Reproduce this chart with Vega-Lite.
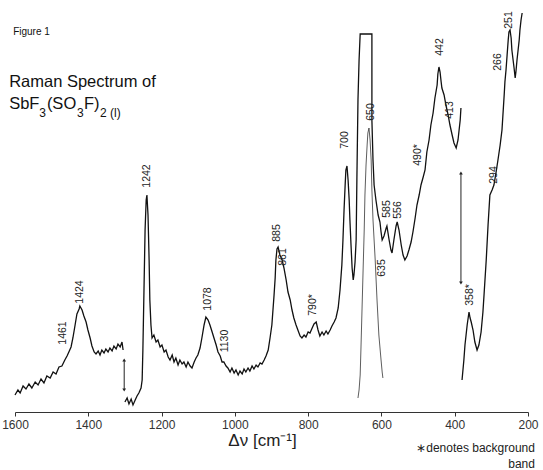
{
  "$schema": "https://vega.github.io/schema/vega-lite/v6.json",
  "width": 513,
  "height": 400,
  "autosize": {"type": "none"},
  "padding": {"left": 15, "top": 12, "right": 15, "bottom": 58},
  "background": "white",
  "config": {"view": {"stroke": null}, "font": "Liberation Sans"},
  "datasets": {
    "trace": [
      {"s":"A","v":1600,"I":17},{"s":"A","v":1592,"I":22},{"s":"A","v":1586,"I":19},{"s":"A","v":1578,"I":26},{"s":"A","v":1570,"I":23},{"s":"A","v":1562,"I":28},{"s":"A","v":1554,"I":24},{"s":"A","v":1545,"I":30},{"s":"A","v":1537,"I":27},{"s":"A","v":1529,"I":33},{"s":"A","v":1521,"I":29},{"s":"A","v":1513,"I":36},{"s":"A","v":1504,"I":34},{"s":"A","v":1496,"I":40},{"s":"A","v":1488,"I":38},{"s":"A","v":1480,"I":45},{"s":"A","v":1472,"I":46},{"s":"A","v":1464,"I":52},{"s":"A","v":1458,"I":56},{"s":"A","v":1453,"I":60},{"s":"A","v":1447,"I":65},{"s":"A","v":1442,"I":74},{"s":"A","v":1436,"I":87},{"s":"A","v":1431,"I":98},{"s":"A","v":1425,"I":103},{"s":"A","v":1423,"I":106},{"s":"A","v":1417,"I":102},{"s":"A","v":1412,"I":96},{"s":"A","v":1406,"I":90},{"s":"A","v":1401,"I":82},{"s":"A","v":1395,"I":74},{"s":"A","v":1390,"I":66},{"s":"A","v":1384,"I":60},{"s":"A","v":1379,"I":58},{"s":"A","v":1373,"I":61},{"s":"A","v":1368,"I":57},{"s":"A","v":1363,"I":62},{"s":"A","v":1357,"I":59},{"s":"A","v":1352,"I":63},{"s":"A","v":1346,"I":60},{"s":"A","v":1341,"I":64},{"s":"A","v":1335,"I":61},{"s":"A","v":1330,"I":66},{"s":"A","v":1324,"I":63},{"s":"A","v":1319,"I":68},{"s":"A","v":1313,"I":65},{"s":"A","v":1308,"I":70},{"s":"A","v":1305,"I":62},
      {"s":"B","v":1300,"I":10},{"s":"B","v":1294,"I":14},{"s":"B","v":1289,"I":8},{"s":"B","v":1283,"I":13},{"s":"B","v":1278,"I":7},{"s":"B","v":1272,"I":12},{"s":"B","v":1267,"I":16},{"s":"B","v":1262,"I":19},{"s":"B","v":1256,"I":24},{"s":"B","v":1253,"I":32},{"s":"B","v":1251,"I":62},{"s":"B","v":1248,"I":122},{"s":"B","v":1245,"I":182},{"s":"B","v":1242,"I":212},{"s":"B","v":1240,"I":217},{"s":"B","v":1237,"I":197},{"s":"B","v":1234,"I":152},{"s":"B","v":1232,"I":112},{"s":"B","v":1229,"I":87},{"s":"B","v":1226,"I":74},{"s":"B","v":1221,"I":77},{"s":"B","v":1215,"I":70},{"s":"B","v":1210,"I":72},{"s":"B","v":1204,"I":65},{"s":"B","v":1199,"I":67},{"s":"B","v":1193,"I":60},{"s":"B","v":1188,"I":62},{"s":"B","v":1182,"I":55},{"s":"B","v":1177,"I":52},{"s":"B","v":1171,"I":57},{"s":"B","v":1166,"I":50},{"s":"B","v":1161,"I":54},{"s":"B","v":1155,"I":47},{"s":"B","v":1150,"I":52},{"s":"B","v":1144,"I":48},{"s":"B","v":1139,"I":50},{"s":"B","v":1133,"I":45},{"s":"B","v":1128,"I":50},{"s":"B","v":1122,"I":46},{"s":"B","v":1117,"I":44},{"s":"B","v":1111,"I":50},{"s":"B","v":1106,"I":54},{"s":"B","v":1101,"I":57},{"s":"B","v":1095,"I":64},{"s":"B","v":1090,"I":74},{"s":"B","v":1084,"I":87},{"s":"B","v":1079,"I":95},{"s":"B","v":1073,"I":92},{"s":"B","v":1068,"I":87},{"s":"B","v":1062,"I":80},{"s":"B","v":1057,"I":74},{"s":"B","v":1051,"I":67},{"s":"B","v":1046,"I":60},{"s":"B","v":1040,"I":56},{"s":"B","v":1035,"I":50},{"s":"B","v":1030,"I":50},{"s":"B","v":1024,"I":46},{"s":"B","v":1019,"I":44},{"s":"B","v":1013,"I":40},{"s":"B","v":1008,"I":44},{"s":"B","v":1002,"I":39},{"s":"B","v":997,"I":42},{"s":"B","v":991,"I":37},{"s":"B","v":986,"I":41},{"s":"B","v":980,"I":38},{"s":"B","v":975,"I":43},{"s":"B","v":970,"I":40},{"s":"B","v":964,"I":44},{"s":"B","v":959,"I":41},{"s":"B","v":953,"I":46},{"s":"B","v":948,"I":43},{"s":"B","v":942,"I":47},{"s":"B","v":937,"I":45},{"s":"B","v":931,"I":49},{"s":"B","v":926,"I":48},{"s":"B","v":920,"I":52},{"s":"B","v":915,"I":56},{"s":"B","v":909,"I":62},{"s":"B","v":904,"I":74},{"s":"B","v":899,"I":87},{"s":"B","v":893,"I":117},{"s":"B","v":890,"I":134},{"s":"B","v":888,"I":152},{"s":"B","v":885,"I":163},{"s":"B","v":882,"I":165},{"s":"B","v":877,"I":157},{"s":"B","v":871,"I":152},{"s":"B","v":866,"I":144},{"s":"B","v":860,"I":132},{"s":"B","v":855,"I":120},{"s":"B","v":849,"I":112},{"s":"B","v":844,"I":102},{"s":"B","v":839,"I":94},{"s":"B","v":833,"I":87},{"s":"B","v":828,"I":82},{"s":"B","v":822,"I":76},{"s":"B","v":817,"I":74},{"s":"B","v":811,"I":77},{"s":"B","v":806,"I":75},{"s":"B","v":800,"I":80},{"s":"B","v":795,"I":79},{"s":"B","v":789,"I":84},{"s":"B","v":784,"I":88},{"s":"B","v":778,"I":90},{"s":"B","v":773,"I":82},{"s":"B","v":768,"I":76},{"s":"B","v":762,"I":80},{"s":"B","v":757,"I":77},{"s":"B","v":751,"I":81},{"s":"B","v":746,"I":78},{"s":"B","v":740,"I":82},{"s":"B","v":735,"I":86},{"s":"B","v":729,"I":90},{"s":"B","v":724,"I":94},{"s":"B","v":718,"I":104},{"s":"B","v":713,"I":122},{"s":"B","v":708,"I":147},{"s":"B","v":705,"I":172},{"s":"B","v":702,"I":202},{"s":"B","v":699,"I":227},{"s":"B","v":697,"I":242},{"s":"B","v":694,"I":246},{"s":"B","v":691,"I":232},{"s":"B","v":688,"I":212},{"s":"B","v":686,"I":192},{"s":"B","v":683,"I":167},{"s":"B","v":680,"I":144},{"s":"B","v":677,"I":132},{"s":"B","v":675,"I":137},{"s":"B","v":672,"I":150},{"s":"B","v":669,"I":172},{"s":"B","v":667,"I":232},{"s":"B","v":664,"I":312},{"s":"B","v":661,"I":352},{"s":"B","v":658,"I":378},{"s":"B","v":626,"I":378},{"s":"B","v":626,"I":292},{"s":"B","v":623,"I":252},{"s":"B","v":620,"I":227},{"s":"B","v":615,"I":212},{"s":"B","v":609,"I":197},{"s":"B","v":604,"I":190},{"s":"B","v":601,"I":180},{"s":"B","v":598,"I":172},{"s":"B","v":593,"I":176},{"s":"B","v":587,"I":184},{"s":"B","v":585,"I":186},{"s":"B","v":579,"I":172},{"s":"B","v":574,"I":162},{"s":"B","v":571,"I":159},{"s":"B","v":566,"I":172},{"s":"B","v":560,"I":186},{"s":"B","v":557,"I":190},{"s":"B","v":552,"I":182},{"s":"B","v":546,"I":167},{"s":"B","v":541,"I":157},{"s":"B","v":536,"I":152},{"s":"B","v":530,"I":156},{"s":"B","v":525,"I":162},{"s":"B","v":519,"I":170},{"s":"B","v":514,"I":180},{"s":"B","v":508,"I":194},{"s":"B","v":503,"I":207},{"s":"B","v":497,"I":217},{"s":"B","v":492,"I":227},{"s":"B","v":486,"I":235},{"s":"B","v":481,"I":242},{"s":"B","v":476,"I":260},{"s":"B","v":470,"I":272},{"s":"B","v":465,"I":287},{"s":"B","v":459,"I":299},{"s":"B","v":454,"I":314},{"s":"B","v":448,"I":327},{"s":"B","v":446,"I":338},{"s":"B","v":443,"I":345},{"s":"B","v":440,"I":340},{"s":"B","v":437,"I":330},{"s":"B","v":435,"I":324},{"s":"B","v":429,"I":317},{"s":"B","v":424,"I":307},{"s":"B","v":418,"I":297},{"s":"B","v":413,"I":287},{"s":"B","v":407,"I":277},{"s":"B","v":402,"I":269},{"s":"B","v":396,"I":264},{"s":"B","v":391,"I":272},{"s":"B","v":388,"I":282},{"s":"B","v":385,"I":292},{"s":"B","v":383,"I":304},
      {"s":"C","v":380,"I":32},{"s":"C","v":375,"I":52},{"s":"C","v":372,"I":67},{"s":"C","v":369,"I":77},{"s":"C","v":366,"I":87},{"s":"C","v":361,"I":100},{"s":"C","v":358,"I":94},{"s":"C","v":355,"I":90},{"s":"C","v":350,"I":82},{"s":"C","v":345,"I":70},{"s":"C","v":339,"I":62},{"s":"C","v":334,"I":67},{"s":"C","v":328,"I":80},{"s":"C","v":323,"I":100},{"s":"C","v":320,"I":117},{"s":"C","v":314,"I":152},{"s":"C","v":309,"I":187},{"s":"C","v":304,"I":217},{"s":"C","v":298,"I":222},{"s":"C","v":293,"I":227},{"s":"C","v":287,"I":240},{"s":"C","v":282,"I":252},{"s":"C","v":276,"I":267},{"s":"C","v":271,"I":282},{"s":"C","v":265,"I":317},{"s":"C","v":263,"I":330},{"s":"C","v":260,"I":342},{"s":"C","v":257,"I":357},{"s":"C","v":254,"I":372},{"s":"C","v":252,"I":380},{"s":"C","v":249,"I":382},{"s":"C","v":246,"I":374},{"s":"C","v":244,"I":362},{"s":"C","v":238,"I":344},{"s":"C","v":235,"I":334},{"s":"C","v":233,"I":340},{"s":"C","v":230,"I":352},{"s":"C","v":227,"I":362},{"s":"C","v":224,"I":372},{"s":"C","v":222,"I":382},{"s":"C","v":219,"I":392},{"s":"C","v":216,"I":399}
    ],
    "low": [
      {"s":"D","v":664,"I":14},{"s":"D","v":661,"I":22},{"s":"D","v":658,"I":37},{"s":"D","v":656,"I":62},{"s":"D","v":653,"I":102},{"s":"D","v":650,"I":142},{"s":"D","v":647,"I":182},{"s":"D","v":645,"I":217},{"s":"D","v":642,"I":247},{"s":"D","v":639,"I":267},{"s":"D","v":637,"I":279},{"s":"D","v":634,"I":284},{"s":"D","v":631,"I":272},{"s":"D","v":628,"I":252},{"s":"D","v":626,"I":222},{"s":"D","v":623,"I":192},{"s":"D","v":617,"I":152},{"s":"D","v":612,"I":112},{"s":"D","v":607,"I":77},{"s":"D","v":601,"I":52},{"s":"D","v":598,"I":40},{"s":"D","v":596,"I":34}
    ],
    "arrows": [
      {"v":1302,"lo":22,"hi":52},
      {"v":383,"lo":129,"hi":239}
    ],
    "peaks": [
      {"t":"1461","v":1469,"I":79},
      {"t":"1424","v":1423,"I":120},
      {"t":"1242","v":1240,"I":236},
      {"t":"1078","v":1073,"I":113},
      {"t":"1130","v":1027,"I":71},
      {"t":"885","v":885,"I":179},
      {"t":"861","v":869,"I":155},
      {"t":"790*","v":788,"I":107},
      {"t":"700","v":699,"I":272},
      {"t":"650","v":628,"I":300},
      {"t":"635","v":598,"I":144},
      {"t":"585","v":585,"I":203},
      {"t":"556","v":555,"I":202},
      {"t":"490*","v":500,"I":257},
      {"t":"442","v":440,"I":365},
      {"t":"413","v":413,"I":302},
      {"t":"294","v":293,"I":237},
      {"t":"266","v":282,"I":350},
      {"t":"251","v":252,"I":392},
      {"t":"358*","v":358,"I":117}
    ],
    "titles": [
      {"t":"Figure 1","v":1605,"I":380,"size":10},
      {"t":"Raman Spectrum of","v":1616,"I":330,"size":16.5},
      {"t":"SbF","v":1616,"I":308,"size":16.5},
      {"t":"3","v":1534,"I":299,"size":12},
      {"t":"(SO","v":1513,"I":308,"size":16.5},
      {"t":"3","v":1431,"I":299,"size":12},
      {"t":"F)","v":1412,"I":308,"size":16.5},
      {"t":"2 (l)","v":1368,"I":299,"size":12}
    ],
    "notes": [
      {"t":"∗denotes background","v":181,"I":-36},
      {"t":"band","v":181,"I":-52}
    ]
  },
  "layer": [
    {
      "data": {"name": "trace"},
      "mark": {"type": "line", "color": "#111", "strokeWidth": 1.3, "clip": false},
      "encoding": {
        "x": {"field": "v", "type": "quantitative", "scale": {"domain": [1600, 200], "nice": false, "zero": false},
          "axis": {"title": "Δν [cm⁻¹]", "values": [1600,1500,1400,1300,1200,1100,1000,900,800,700,600,500,400,300,200],
            "labelExpr": "datum.value % 200 == 0 ? datum.value : ''", "grid": false, "labelFlush": false,
            "domainColor": "#333", "tickColor": "#333", "tickSize": 4, "labelColor": "#333", "labelFontSize": 12,
            "labelPadding": 3, "labelFont": "Liberation Sans",
            "titleFont": "Liberation Sans", "titleFontSize": 17, "titleFontWeight": "normal", "titleColor": "#222",
            "titlePadding": 2, "titleX": 247, "titleAlign": "center"}},
        "y": {"field": "I", "type": "quantitative", "scale": {"domain": [0, 400], "nice": false}, "axis": null},
        "detail": {"field": "s"},
        "order": {"value": null}
      }
    },
    {
      "data": {"name": "low"},
      "mark": {"type": "line", "color": "#333", "strokeWidth": 0.8},
      "encoding": {
        "x": {"field": "v", "type": "quantitative"},
        "y": {"field": "I", "type": "quantitative"},
        "order": {"value": null}
      }
    },
    {
      "data": {"name": "arrows"},
      "mark": {"type": "rule", "color": "#222", "strokeWidth": 1},
      "encoding": {
        "x": {"field": "v", "type": "quantitative"},
        "y": {"field": "lo", "type": "quantitative"},
        "y2": {"field": "hi"}
      }
    },
    {
      "data": {"name": "arrows"},
      "mark": {"type": "point", "shape": "triangle-up", "filled": true, "color": "#222", "size": 14, "opacity": 1},
      "encoding": {
        "x": {"field": "v", "type": "quantitative"},
        "y": {"field": "hi", "type": "quantitative"}
      }
    },
    {
      "data": {"name": "arrows"},
      "mark": {"type": "point", "shape": "triangle-down", "filled": true, "color": "#222", "size": 14, "opacity": 1},
      "encoding": {
        "x": {"field": "v", "type": "quantitative"},
        "y": {"field": "lo", "type": "quantitative"}
      }
    },
    {
      "data": {"name": "peaks"},
      "mark": {"type": "text", "angle": 270, "align": "center", "baseline": "middle", "fontSize": 10.5, "color": "#222", "font": "Liberation Sans"},
      "encoding": {
        "x": {"field": "v", "type": "quantitative"},
        "y": {"field": "I", "type": "quantitative"},
        "text": {"field": "t"}
      }
    },
    {
      "data": {"name": "titles"},
      "mark": {"type": "text", "align": "left", "baseline": "middle", "color": "#111", "font": "Liberation Sans"},
      "encoding": {
        "x": {"field": "v", "type": "quantitative"},
        "y": {"field": "I", "type": "quantitative"},
        "text": {"field": "t"},
        "size": {"field": "size", "type": "quantitative", "scale": null}
      }
    },
    {
      "data": {"name": "notes"},
      "mark": {"type": "text", "align": "right", "baseline": "middle", "fontSize": 12, "color": "#222", "font": "Liberation Sans"},
      "encoding": {
        "x": {"field": "v", "type": "quantitative"},
        "y": {"field": "I", "type": "quantitative"},
        "text": {"field": "t"}
      }
    }
  ]
}
